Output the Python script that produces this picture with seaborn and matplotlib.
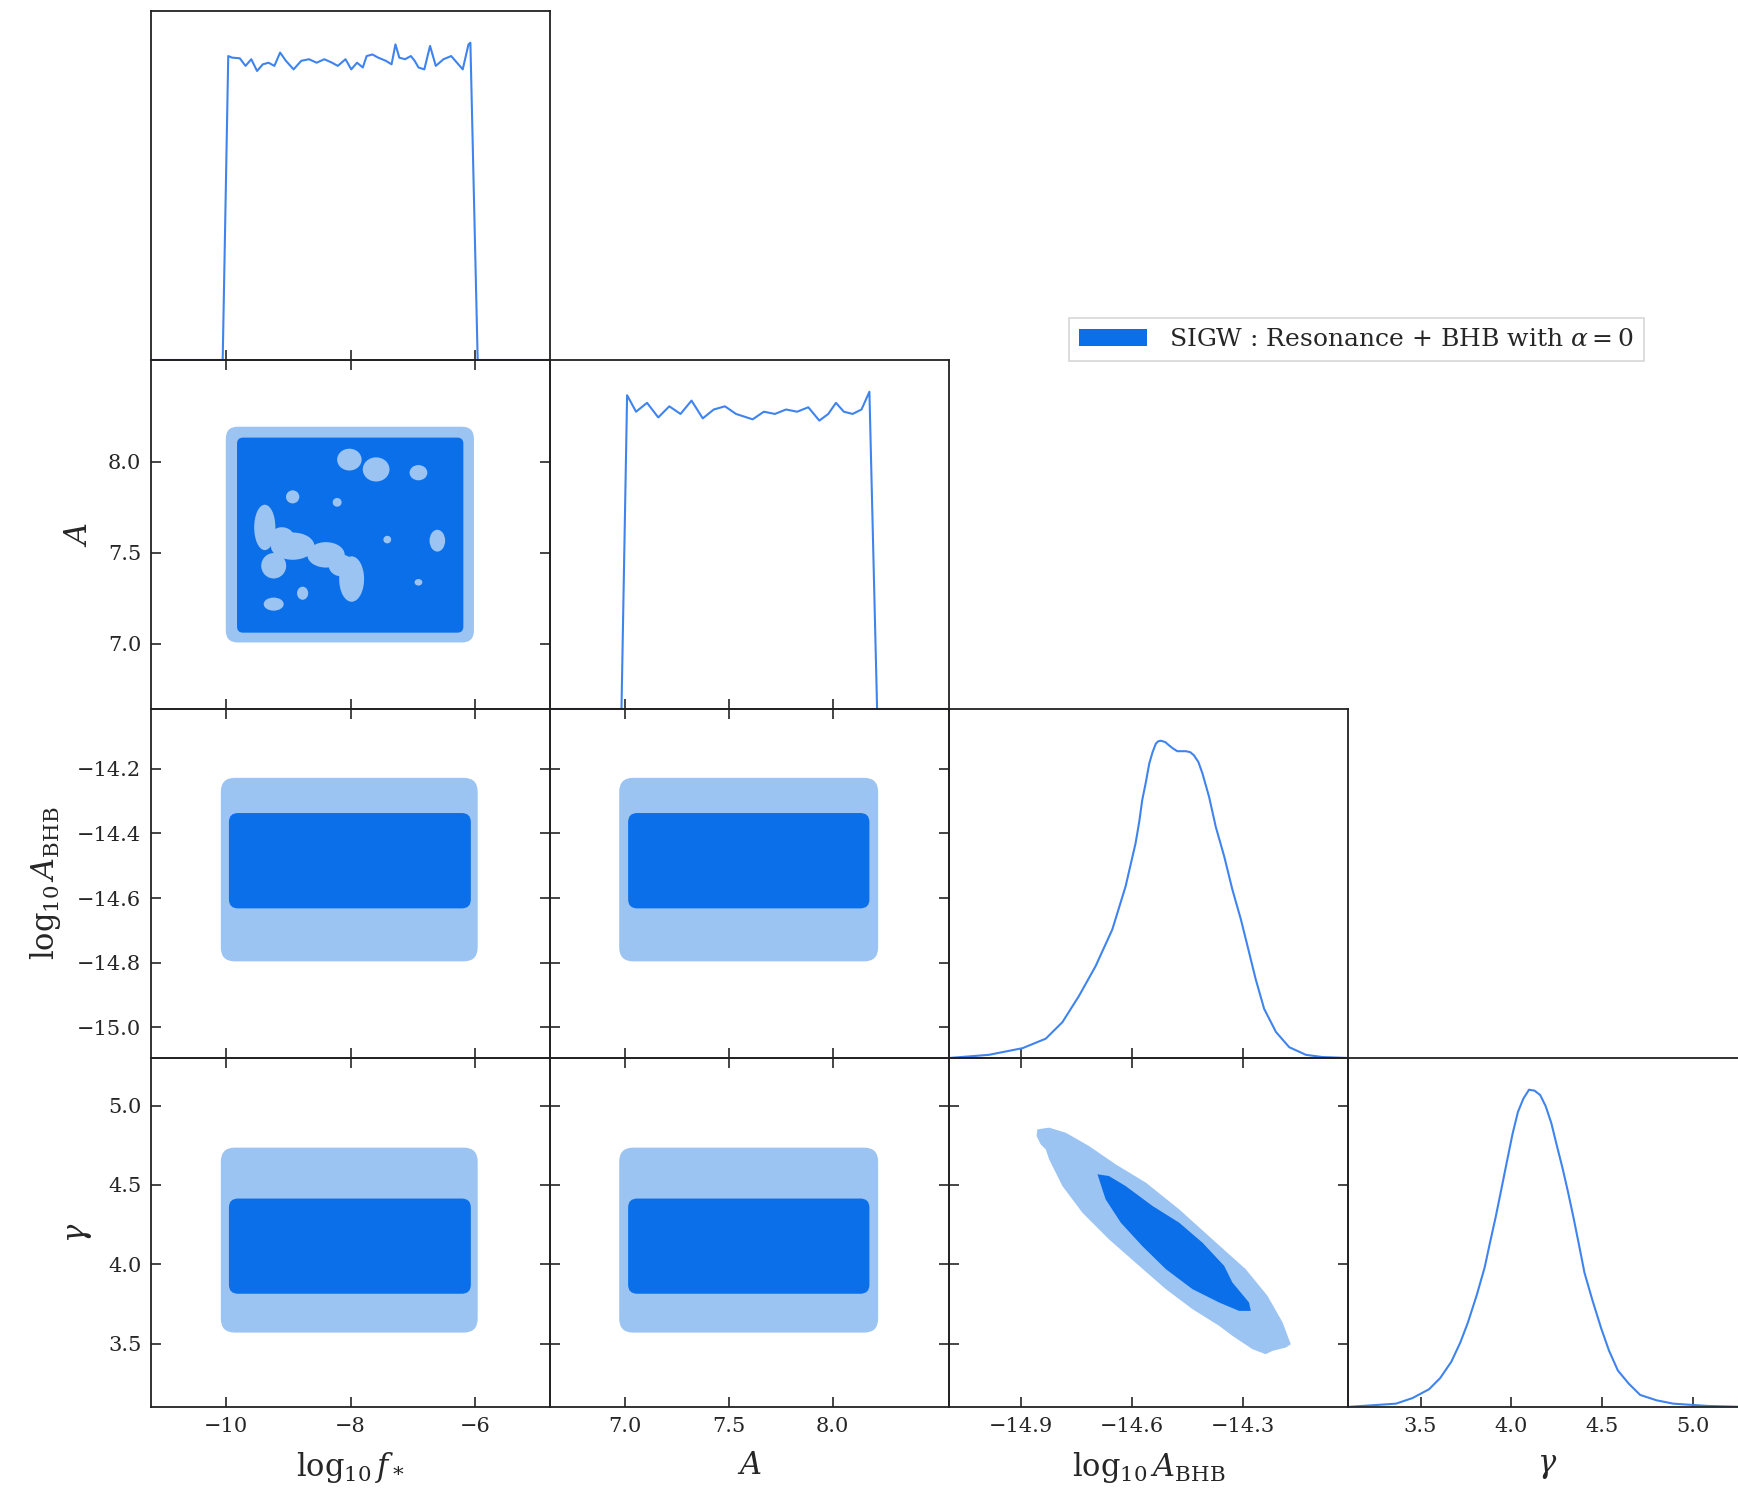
import numpy as np
import pandas as pd
import matplotlib
matplotlib.use('Agg')
import matplotlib.pyplot as plt
from matplotlib.patches import FancyBboxPatch, Ellipse, Patch
import seaborn as sns

sns.set_style('ticks')
plt.rcParams['font.family'] = ['DejaVu Serif']
plt.rcParams['mathtext.fontset'] = 'dejavuserif'

# ---- 1D marginals (peak normalised to 1) ----
logf_x = [-11.2, -10.05, -9.961, -9.899, -9.776, -9.684, -9.591, -9.499, -9.406, -9.314,
          -9.221, -9.129, -9.036, -8.913, -8.790, -8.666, -8.543, -8.420, -8.296, -8.204,
          -8.080, -7.988, -7.895, -7.803, -7.741, -7.649, -7.556, -7.433, -7.341, -7.279,
          -7.217, -7.125, -7.032, -6.971, -6.909, -6.816, -6.724, -6.632, -6.508, -6.385,
          -6.292, -6.200, -6.107, -6.077, -5.96, -4.8]
logf_pdf = [0, 0, 0.958, 0.953, 0.951, 0.927, 0.948, 0.911, 0.932, 0.937,
            0.927, 0.969, 0.943, 0.916, 0.943, 0.948, 0.937, 0.948, 0.937, 0.927,
            0.948, 0.916, 0.937, 0.922, 0.958, 0.963, 0.953, 0.943, 0.932, 0.995,
            0.953, 0.948, 0.958, 0.943, 0.922, 0.916, 0.990, 0.927, 0.948, 0.958,
            0.937, 0.916, 0.995, 1.0, 0, 0]

A_x = [6.64, 6.984, 7.011, 7.054, 7.107, 7.161, 7.214, 7.268, 7.321, 7.375, 7.428,
       7.482, 7.535, 7.615, 7.669, 7.722, 7.776, 7.829, 7.883, 7.936, 7.979, 8.016,
       8.054, 8.096, 8.139, 8.177, 8.214, 8.56]
A_pdf = [0, 0, 0.989, 0.937, 0.965, 0.919, 0.954, 0.930, 0.972, 0.916, 0.944,
         0.954, 0.930, 0.913, 0.937, 0.930, 0.944, 0.937, 0.951, 0.909, 0.930, 0.965,
         0.937, 0.930, 0.944, 1.0, 0, 0]

bhb_x = [-15.095, -14.987, -14.896, -14.833, -14.788, -14.743, -14.698, -14.653, -14.617,
         -14.590, -14.580, -14.572, -14.562, -14.553, -14.544, -14.535, -14.529, -14.522,
         -14.510, -14.499, -14.488, -14.477, -14.465, -14.454, -14.442, -14.432, -14.420,
         -14.409, -14.391, -14.373, -14.350, -14.328, -14.305, -14.287, -14.265, -14.242,
         -14.210, -14.174, -14.129, -14.084, -14.015]
bhb_pdf = [0, 0.010, 0.031, 0.061, 0.113, 0.196, 0.290, 0.405, 0.541,
           0.677, 0.745, 0.813, 0.870, 0.928, 0.964, 0.991, 0.998, 1.0,
           0.996, 0.985, 0.975, 0.967, 0.967, 0.967, 0.964, 0.954, 0.933,
           0.897, 0.823, 0.729, 0.635, 0.531, 0.437, 0.353, 0.249, 0.155,
           0.082, 0.034, 0.010, 0.003, 0]

gam_x = [3.094, 3.364, 3.455, 3.547, 3.608, 3.670, 3.719, 3.761, 3.810, 3.854, 3.884,
         3.914, 3.945, 3.976, 4.007, 4.037, 4.067, 4.098, 4.129, 4.160, 4.190, 4.221,
         4.251, 4.282, 4.313, 4.343, 4.374, 4.404, 4.448, 4.496, 4.539, 4.588, 4.649,
         4.711, 4.802, 4.894, 5.078, 5.30]
gam_pdf = [0, 0.0105, 0.028, 0.056, 0.091, 0.143, 0.203, 0.266, 0.353, 0.441, 0.521,
           0.598, 0.685, 0.773, 0.860, 0.930, 0.972, 1.0, 0.997, 0.983, 0.948, 0.895,
           0.825, 0.755, 0.678, 0.598, 0.510, 0.423, 0.336, 0.248, 0.178, 0.115, 0.073,
           0.038, 0.021, 0.0105, 0.0035, 0]

# ---- 2D credible regions: [x_lo, x_hi, y_lo, y_hi] for 95% (outer) and 68% (inner) ----
fa_outer = [-10.0, -6.02, 7.006, 8.193]
fa_inner = [-9.82, -6.19, 7.06, 8.133]
fb_outer = [-10.08, -5.96, -14.796, -14.228]
fb_inner = [-9.95, -6.07, -14.632, -14.337]
ab_outer = [6.973, 8.219, -14.796, -14.228]
ab_inner = [7.016, 8.177, -14.632, -14.337]
fg_outer = [-10.08, -5.96, 3.569, 4.735]
fg_inner = [-9.95, -6.07, 3.814, 4.414]
ag_outer = [6.973, 8.219, 3.569, 4.735]
ag_inner = [7.016, 8.177, 3.814, 4.414]

# islands of the 95% level inside the 68% region of log f* vs A
blob_x = [-8.018, -7.589, -6.910, -8.928, -8.214, -6.607, -9.375, -8.928, -8.393,
          -7.982, -9.232, -9.232, -8.768, -7.410, -6.910, -9.10, -8.15]
blob_y = [8.012, 7.958, 7.940, 7.807, 7.777, 7.566, 7.639, 7.536, 7.488,
          7.355, 7.428, 7.217, 7.277, 7.572, 7.337, 7.58, 7.43]
blob_w = [0.393, 0.429, 0.286, 0.214, 0.143, 0.25, 0.34, 0.70, 0.60,
          0.40, 0.40, 0.321, 0.179, 0.125, 0.125, 0.40, 0.40]
blob_h = [0.120, 0.133, 0.084, 0.072, 0.048, 0.12, 0.25, 0.15, 0.14,
          0.25, 0.14, 0.072, 0.072, 0.042, 0.036, 0.12, 0.12]

# log10 A_BHB vs gamma contours
bg95_x = [-14.856, -14.824, -14.779, -14.716, -14.644, -14.562, -14.472, -14.382, -14.292,
          -14.233, -14.192, -14.170, -14.183, -14.219, -14.238, -14.274, -14.328, -14.364,
          -14.436, -14.508, -14.580, -14.662, -14.734, -14.788, -14.824, -14.833, -14.847,
          -14.858]
bg95_y = [4.850, 4.861, 4.829, 4.745, 4.630, 4.514, 4.346, 4.157, 3.969,
          3.801, 3.633, 3.496, 3.475, 3.454, 3.433, 3.465, 3.549, 3.612,
          3.717, 3.843, 3.989, 4.157, 4.325, 4.493, 4.661, 4.724, 4.756,
          4.808]
bg68_x = [-14.693, -14.662, -14.617, -14.544, -14.472, -14.409, -14.350, -14.328, -14.283,
          -14.278, -14.310, -14.364, -14.436, -14.508, -14.572, -14.630, -14.671, -14.680]
bg68_y = [4.567, 4.556, 4.493, 4.367, 4.262, 4.136, 3.989, 3.885, 3.759,
          3.706, 3.706, 3.759, 3.843, 3.969, 4.115, 4.262, 4.409, 4.472]

names = [r'$\log_{10} f_*$', r'$A$', r'$\log_{10} A_{\rm BHB}$', r'$\gamma$']
lims = [(-11.2, -4.8), (6.64, 8.56), (-15.095, -14.015), (3.10, 5.30)]
xticks = [[-10, -8, -6], [7.0, 7.5, 8.0], [-14.9, -14.6, -14.3], [3.5, 4.0, 4.5, 5.0]]
yticks = [[], [7.0, 7.5, 8.0], [-15.0, -14.8, -14.6, -14.4, -14.2], [3.5, 4.0, 4.5, 5.0]]
fmts = ['{:.0f}', '{:.1f}', '{:.1f}', '{:.1f}']
legend_label = r'SIGW : Resonance + BHB with $\alpha = 0$'

dark = '#0a6fe8'
light = '#9bc4f3'
line_c = '#3f84ee'

W, H = 1738, 1491
x0, y0, pw, ph = 151, 11, 399, 349

fig = plt.figure(figsize=(W / 100, H / 100), dpi=100)
fig.patch.set_facecolor('white')


def lab(v, f):
    return f.format(v).replace('-', '\u2212')


def rounded(ax, box, r_px, color):
    xa, xb, ya, yb = box
    xl, yl = ax.get_xlim(), ax.get_ylim()
    xu = (xl[1] - xl[0]) / pw
    yu = (yl[1] - yl[0]) / ph
    ax.add_patch(FancyBboxPatch((xa, ya), xb - xa, yb - ya,
                                boxstyle='round,pad=0,rounding_size=%g' % (r_px * xu),
                                mutation_aspect=yu / xu, fc=color, ec='none', lw=0))


axes = {}
for r in range(4):
    for c in range(r + 1):
        rect = [(x0 + c * pw) / W, 1 - (y0 + (r + 1) * ph) / H, pw / W, ph / H]
        ax = fig.add_axes(rect)
        ax.set_facecolor('none')
        ax.set_xlim(lims[c])
        ax.set_xticks(xticks[c])
        if r == 3:
            ax.set_xticklabels([lab(t, fmts[c]) for t in xticks[c]])
        else:
            ax.set_xticklabels([])
        if r == c:
            ax.set_ylim(0, 1.1)
            ax.set_yticks([])
            ax.tick_params(axis='x', direction='in', length=7, width=1.2,
                           labelsize=15, pad=7, top=False)
        else:
            ax.set_ylim(lims[r])
            ax.set_yticks(yticks[r])
            if c == 0:
                ax.set_yticklabels([lab(t, fmts[r]) for t in yticks[r]])
            else:
                ax.set_yticklabels([])
            ax.tick_params(direction='in', length=7, width=1.2, labelsize=15, pad=7,
                           top=True, right=True)
        for s in ax.spines.values():
            s.set_linewidth(1.3)
            s.set_color('#222222')
        axes[(r, c)] = ax

# diagonal marginals
for c, (xs, ys) in enumerate([(logf_x, logf_pdf), (A_x, A_pdf), (bhb_x, bhb_pdf), (gam_x, gam_pdf)]):
    df = pd.DataFrame({'x': xs, 'pdf': ys})
    sns.lineplot(data=df, x='x', y='pdf', ax=axes[(c, c)], color=line_c, lw=1.5,
                 sort=False, estimator=None)

# 2D panels
ax = axes[(1, 0)]
rounded(ax, fa_outer, 12, light)
rounded(ax, fa_inner, 6, dark)
for bx, by, bw, bh in zip(blob_x, blob_y, blob_w, blob_h):
    ax.add_patch(Ellipse((bx, by), bw, bh, fc=light, ec='none'))

for key, outer, inner in [((2, 0), fb_outer, fb_inner), ((2, 1), ab_outer, ab_inner),
                          ((3, 0), fg_outer, fg_inner), ((3, 1), ag_outer, ag_inner)]:
    rounded(axes[key], outer, 14, light)
    rounded(axes[key], inner, 9, dark)

ax = axes[(3, 2)]
ax.fill(bg95_x, bg95_y, color=light, lw=0)
ax.fill(bg68_x, bg68_y, color=dark, lw=0)

# axis labels only on the bottom row / left column
for k, ax in axes.items():
    ax.set_xlabel('')
    ax.set_ylabel('')
for c in range(4):
    axes[(3, c)].set_xlabel(names[c], fontsize=22, labelpad=10)
for r in range(1, 4):
    axes[(r, 0)].set_ylabel(names[r], fontsize=22, labelpad=10)

leg = fig.legend(handles=[Patch(facecolor=dark, edgecolor='none')], labels=[legend_label],
                 loc='center', bbox_to_anchor=(0.7807, 0.7722), fontsize=18,
                 handlelength=2.7, handleheight=0.7, frameon=True, fancybox=False,
                 borderpad=0.4, handletextpad=0.9)
leg.get_frame().set_edgecolor('#cccccc')
leg.get_frame().set_linewidth(1.2)

fig.savefig('out.png', dpi=100, facecolor='white')
